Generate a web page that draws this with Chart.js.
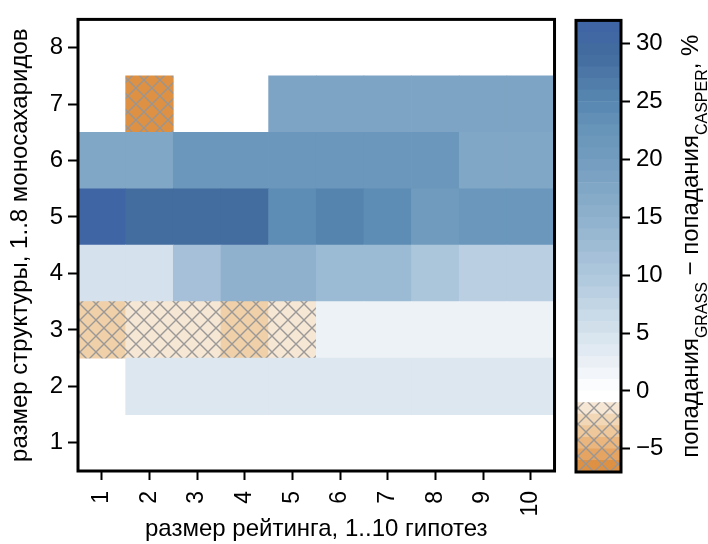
<!DOCTYPE html>
<html>
<head>
<meta charset="utf-8">
<script src="https://cdn.jsdelivr.net/npm/chart.js@4.4.0/dist/chart.umd.min.js"></script>
<style>
  html, body { margin: 0; padding: 0; background: #fff; }
  #wrap { position: relative; width: 708px; height: 544px; overflow: hidden; }
  #heat { position: absolute; left: 0; top: 0; }
  #bar { position: absolute; left: 570px; top: 0; }
</style>
</head>
<body>
<div id="wrap">
  <canvas id="heat" width="570" height="544"></canvas>
  <canvas id="bar" width="138" height="544"></canvas>
</div>
<script>
// Ranking size (number of hypotheses) along x, structure size (monosaccharides) along y
const rankSizes = ['1', '2', '3', '4', '5', '6', '7', '8', '9', '10'];
const structureSizes = [1, 2, 3, 4, 5, 6, 7, 8];

// Hit rate difference GRASS − CASPER, %, one list per structure size (null = no cell)
const size1 = [null, null, null, null, null, null, null, null, null, null];
const size2 = [null, 4, 4, 4, 4, 4, 4, 4, 4, 4];
const size3 = [-3, -1.5, -1.5, -3, -1.5, 2, 2, 2, 2, 2];
const size4 = [5, 5, 11.5, 15, 15, 13, 13, 10.5, 8.5, 8.5];
const size5 = [31.5, 29, 29, 29, 24, 25.5, 24, 20.5, 22, 22];
const size6 = [17.5, 17.5, 22, 22, 22, 22, 22, 22, 17.5, 17.5];
const size7 = [null, -6.5, null, null, 18, 18, 18, 18, 18, 18];
const size8 = [null, null, null, null, null, null, null, null, null, null];
const rows = [size1, size2, size3, size4, size5, size6, size7, size8];

// Colour bar range and tick labels
const scaleMin = -7;
const scaleMax = 32;
const colorbarTicks = [-5, 0, 5, 10, 15, 20, 25, 30];

const FONT = "'Liberation Sans', Arial, sans-serif";

// Colour stops: orange for negative, white at zero, blue for positive
const stops = [
  [-7, '#dc8834'], [-5, '#e8ad70'], [-3, '#f0d0a8'], [-1, '#f8ede2'], [0, '#ffffff'],
  [2, '#edf2f7'], [5, '#d5e2ed'], [10, '#aec7dc'], [15, '#8fb1cd'], [20, '#729cbf'],
  [22, '#6a97bb'], [25, '#5787b1'], [29, '#436c9f'], [32, '#3e64a6']
];
function hexRgb(h) { return [1, 3, 5].map(i => parseInt(h.substr(i, 2), 16)); }
function colorAt(v) {
  if (v <= stops[0][0]) return stops[0][1];
  for (let i = 1; i < stops.length; i++) {
    if (v <= stops[i][0]) {
      const [v0, c0] = stops[i - 1], [v1, c1] = stops[i];
      const t = (v - v0) / (v1 - v0);
      const a = hexRgb(c0), b = hexRgb(c1);
      const m = a.map((x, k) => Math.round(x + (b[k] - x) * t));
      return `rgb(${m[0]},${m[1]},${m[2]})`;
    }
  }
  return stops[stops.length - 1][1];
}

// Cross-hatched fill for negative values
function hatch(base) {
  const s = 16;
  const c = document.createElement('canvas');
  c.width = s; c.height = s;
  const g = c.getContext('2d');
  g.fillStyle = base; g.fillRect(0, 0, s, s);
  g.strokeStyle = 'rgba(150,150,150,0.95)';
  g.lineWidth = 1.4;
  g.beginPath();
  for (const o of [-s, 0, s]) {
    g.moveTo(o, 0); g.lineTo(o + s, s);
    g.moveTo(o, s); g.lineTo(o + s, 0);
  }
  g.stroke();
  return g.createPattern(c, 'repeat');
}
function fillFor(v) { return v < 0 ? hatch(colorAt(v)) : colorAt(v); }

// Frame around a chart area
const framePlugin = {
  id: 'frame',
  afterDraw(chart) {
    const { ctx, chartArea: a } = chart;
    ctx.save();
    ctx.strokeStyle = '#000';
    ctx.lineWidth = 3;
    ctx.strokeRect(a.left, a.top, a.right - a.left, a.bottom - a.top);
    ctx.restore();
  }
};

const heatDatasets = rows.map((vals, i) => ({
  data: vals.map(v => v === null ? null : [structureSizes[i] - 0.5, structureSizes[i] + 0.5]),
  backgroundColor: vals.map(v => v === null ? 'rgba(0,0,0,0)' : fillFor(v)),
  borderWidth: 0,
  grouped: false,
  barPercentage: 1,
  categoryPercentage: 1
}));

const tickFont = { family: FONT, size: 24 };
const xTickFont = { family: FONT, size: 23 };
const titleFont = { family: FONT, size: 24 };

new Chart(document.getElementById('heat'), {
  type: 'bar',
  data: { labels: rankSizes, datasets: heatDatasets },
  plugins: [framePlugin],
  options: {
    responsive: false,
    animation: false,
    devicePixelRatio: 1,
    layout: { padding: { top: 12, right: 14, left: 0, bottom: 0 } },
    plugins: { legend: { display: false }, tooltip: { enabled: false } },
    scales: {
      x: {
        type: 'category',
        offset: true,
        border: { display: false },
        grid: { drawOnChartArea: false, drawTicks: true, tickLength: 9, tickWidth: 2, tickColor: '#000', offset: false },
        ticks: { color: '#000', font: xTickFont, minRotation: 90, maxRotation: 90, padding: 11 },
        title: { display: true, text: 'размер рейтинга, 1..10 гипотез', color: '#000', font: titleFont, padding: { top: 0, bottom: 0 } },
        afterFit(s) { s.height = 73; }
      },
      y: {
        type: 'linear',
        min: 0.5,
        max: 8.5,
        afterBuildTicks(s) { s.ticks = structureSizes.map(v => ({ value: v })); },
        border: { display: false },
        grid: { drawOnChartArea: false, drawTicks: true, tickLength: 10, tickWidth: 2, tickColor: '#000' },
        ticks: { color: '#000', font: tickFont, padding: 5 },
        title: { display: true, text: 'размер структуры, 1..8 моносахаридов', color: '#000', font: titleFont, padding: { top: 6, bottom: 0 } },
        afterFit(s) { s.width = 78; }
      }
    }
  }
});

// Colour bar: one floating band per unit of the scale
const bandStarts = [];
for (let v = scaleMin; v < scaleMax; v++) bandStarts.push(v);
const bandDatasets = bandStarts.map(v => {
  const mid = v + 0.5;
  const fill = v + 1 <= -1 ? hatch(colorAt(mid)) : (v + 1 <= 0 ? '#ffffff' : colorAt(mid));
  return {
    data: [[v, v + 1]],
    backgroundColor: fill,
    borderWidth: 0,
    grouped: false,
    barPercentage: 1,
    categoryPercentage: 1
  };
});

// Rotated colour bar title with subscripts
const barTitlePlugin = {
  id: 'barTitle',
  afterDraw(chart) {
    const { ctx, chartArea: a } = chart;
    const parts = [
      ['попадания', 24, 0], ['GRASS', 16, 9], [' − попадания', 24, 0], ['CASPER', 16, 9], [', %', 24, 0]
    ];
    ctx.save();
    let total = 0;
    for (const [t, sz] of parts) { ctx.font = `${sz}px ${FONT}`; total += ctx.measureText(t).width; }
    ctx.translate(128, (a.top + a.bottom) / 2);
    ctx.rotate(-Math.PI / 2);
    ctx.fillStyle = '#000';
    ctx.textBaseline = 'alphabetic';
    ctx.textAlign = 'left';
    let x = -total / 2;
    for (const [t, sz, dy] of parts) {
      ctx.font = `${sz}px ${FONT}`;
      ctx.fillText(t, x, dy);
      x += ctx.measureText(t).width;
    }
    ctx.restore();
  }
};

new Chart(document.getElementById('bar'), {
  type: 'bar',
  data: { labels: [''], datasets: bandDatasets },
  plugins: [framePlugin, barTitlePlugin],
  options: {
    responsive: false,
    animation: false,
    devicePixelRatio: 1,
    layout: { padding: { top: 12, right: 0, left: 6, bottom: 72 } },
    plugins: { legend: { display: false }, tooltip: { enabled: false } },
    scales: {
      x: { display: false },
      y: {
        type: 'linear',
        position: 'right',
        min: scaleMin,
        max: scaleMax,
        afterBuildTicks(s) { s.ticks = colorbarTicks.map(v => ({ value: v })); },
        border: { display: false },
        grid: { drawOnChartArea: false, drawTicks: true, tickLength: 9, tickWidth: 2, tickColor: '#000' },
        ticks: { color: '#000', font: tickFont, padding: 6, callback: v => v < 0 ? '\u2212' + Math.abs(v) : String(v) },
        afterFit(s) { s.width = 87; }
      }
    }
  }
});
</script>
</body>
</html>
